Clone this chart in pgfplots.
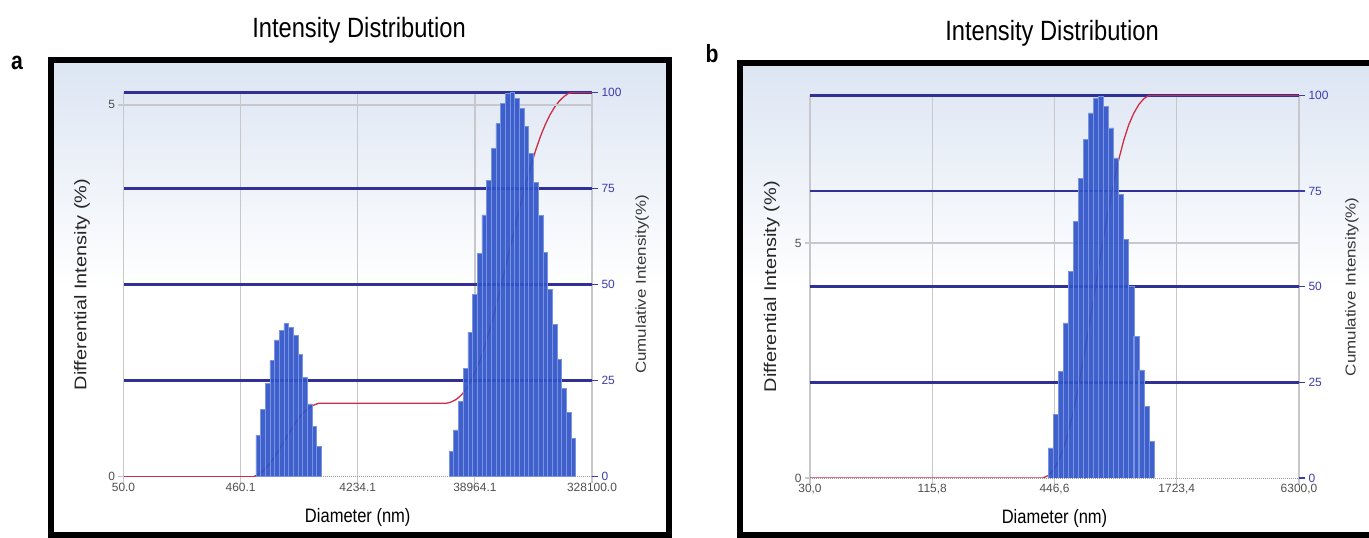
\documentclass[border=0pt]{standalone}
\usepackage{pgfplots}
\pgfplotsset{compat=1.18}
\usepackage{fontspec}
\setmainfont{Liberation Sans}
\usepackage{graphicx}
\definecolor{barblue}{RGB}{48,84,200}
\definecolor{baredge}{RGB}{120,148,225}
\definecolor{gridblue}{RGB}{48,48,150}
\definecolor{tickblue}{RGB}{60,60,175}
\definecolor{gridgray}{RGB}{200,200,204}
\definecolor{redline}{RGB}{205,45,70}
\definecolor{bgblue}{RGB}{220,229,243}
\definecolor{labgray}{RGB}{80,80,80}
\newcommand{\hs}[1]{\scalebox{0.85}[1]{#1}}
\newcommand{\vs}[1]{\scalebox{1}[0.85]{#1}}
\pgfplotsset{
  cumaxis/.style={
    scale only axis, at={(0pt,0pt)}, anchor=south west,
    xmin=0, xmax=4, ymin=0, ymax=100,
    axis x line*=bottom, axis y line*=right,
    y axis line style={draw=none},
    x axis line style={densely dotted, draw=gray!80, line width=1bp},
    tick align=outside, major tick length=6bp,
    xtick={0,1,2,3,4},
    xmajorgrids, x grid style={gridgray, line width=1.3bp},
    x tick style={gridgray, line width=1.2bp},
    ytick={25,50,75,100}, extra y ticks={0}, extra y tick style={grid=none},
    ymajorgrids, y grid style={gridblue, line width=2.6bp},
    y tick style={tickblue, line width=1.4bp},
    /pgf/number format/assume math mode=true,
    xticklabel style={font=\fontsize{12}{12}\selectfont, text=labgray, yshift=3bp},
    yticklabel style={font=\fontsize{12}{12}\selectfont, text=tickblue},
    xlabel style={font=\fontsize{19.5}{20}\selectfont, anchor=center},
    ylabel style={font=\fontsize{17}{18}\selectfont, text=labgray!70!black, anchor=center},
  },
  difaxis/.style={
    scale only axis, at={(0pt,0pt)}, anchor=south west,
    xmin=0, xmax=4, ymin=0,
    axis x line=none, axis y line*=left,
    y axis line style={draw=none},
    tick align=outside, major tick length=5bp,
    ytick={5}, extra y ticks={0}, extra y tick style={grid=none},
    ymajorgrids, y grid style={gridgray, line width=1.3bp},
    y tick style={gridgray, line width=1.2bp},
    /pgf/number format/assume math mode=true,
    yticklabel style={font=\fontsize{12}{12}\selectfont, text=labgray},
    ylabel style={font=\fontsize{20}{21}\selectfont, text=black!85, anchor=center},
    ybar, bar width=0.04,
  },
}
\begin{document}
\begin{tikzpicture}
\useasboundingbox (0bp,0bp) rectangle (1369bp,538bp);
\clip (0bp,0bp) rectangle (1369bp,538bp);
\begin{scope}[x=1bp,y=1bp]
\fill[white] (0,0) rectangle (1369,538);
\shade[top color=bgblue, bottom color=white] (51,250) rectangle (669,478);
\shade[top color=bgblue, bottom color=white] (740,250) rectangle (1380,475);
\draw[line width=6bp] (51,3) rectangle (669,478);
\draw[line width=6bp] (740,3) rectangle (1380,475);
\node[font=\fontsize{28}{30}\selectfont] at (359,508) {\hs{Intensity Distribution}};
\node[font=\fontsize{28}{30}\selectfont] at (1052,505) {\hs{Intensity Distribution}};
\node[font=\bfseries\fontsize{25}{26}\selectfont] at (17,475) {\hs{a}};
\node[font=\bfseries\fontsize{25}{26}\selectfont] at (712,484) {\hs{b}};
\end{scope}

% ---------------- panel a ----------------
\begin{scope}[shift={(123.5bp,61.3bp)}]
\begin{axis}[cumaxis, width=468.5bp, height=384.4bp,
  xticklabels={50.0,460.1,4234.1,38964.1,328100.0},
  xlabel={\hs{Diameter (nm)}}, xlabel style={at={(axis description cs:0.5,-0.107)}},
  ylabel={\vs{Cumulative Intensity(\%)}}, ylabel style={at={(axis description cs:1.107,0.5)}}]
\addplot[redline, line width=1.3bp] coordinates {
(0,0) (1.11,0) (1.15,0.56) (1.19,1.47) (1.23,2.72) (1.27,4.28) (1.31,6.12) (1.35,8.09)
(1.39,10.15) (1.43,12.16) (1.47,14.06) (1.51,15.71) (1.55,17.05) (1.59,18.03)
(1.63,18.71) (1.67,19.12) (2.76,19.12) (2.80,19.46) (2.84,20.09) (2.88,21.10)
(2.92,22.56) (2.96,24.50) (3.00,26.95) (3.04,29.95) (3.08,33.47) (3.12,37.46)
(3.16,41.87) (3.20,46.62) (3.24,51.64) (3.28,56.79) (3.32,61.96) (3.36,67.05)
(3.40,72.00) (3.44,76.71) (3.48,81.06) (3.52,85.02) (3.56,88.53) (3.60,91.55)
(3.64,94.07) (3.68,96.12) (3.72,97.70) (3.76,98.89) (3.80,99.75) (3.84,100) (4,100)};
\end{axis}
\begin{axis}[difaxis, width=468.5bp, height=384.4bp, ymax=5.17,
  ylabel={\vs{Differential Intensity (\%)}}, ylabel style={at={(axis description cs:-0.0886,0.5)}}]
\addplot[fill=barblue, draw=baredge, line width=0.6bp, fill opacity=0.92] coordinates {
(1.15,0.56) (1.19,0.91) (1.23,1.25) (1.27,1.56) (1.31,1.84) (1.35,1.97) (1.39,2.06)
(1.43,2.01) (1.47,1.90) (1.51,1.65) (1.55,1.34) (1.59,0.98) (1.63,0.68) (1.67,0.41)
(2.80,0.34) (2.84,0.63) (2.88,1.01) (2.92,1.46) (2.96,1.94) (3.00,2.45) (3.04,3.00)
(3.08,3.52) (3.12,3.99) (3.16,4.41) (3.20,4.75) (3.24,5.02) (3.28,5.15) (3.32,5.17)
(3.36,5.09) (3.40,4.95) (3.44,4.71) (3.48,4.35) (3.52,3.96) (3.56,3.51) (3.60,3.02)
(3.64,2.52) (3.68,2.05) (3.72,1.58) (3.76,1.19) (3.80,0.86) (3.84,0.52)};
\end{axis}
\end{scope}

% ---------------- panel b ----------------
\begin{scope}[shift={(810bp,60bp)}]
\begin{axis}[cumaxis, width=489bp, height=382.5bp,
  xticklabels={{30,0},{115,8},{446,6},{1723,4},{6300,0}},
  xlabel={\hs{Diameter (nm)}}, xlabel style={at={(axis description cs:0.5,-0.105)}},
  ylabel={\vs{Cumulative Intensity(\%)}}, ylabel style={at={(axis description cs:1.108,0.5)}}]
\addplot[redline, line width=1.3bp] coordinates {
(0,0) (1.907,0) (1.948,0.64) (1.989,1.99) (2.030,4.26) (2.072,7.56) (2.113,11.96)
(2.154,17.42) (2.195,23.80) (2.236,31.00) (2.278,38.77) (2.319,46.86) (2.360,54.98)
(2.401,62.89) (2.442,70.34) (2.484,77.15) (2.525,83.18) (2.566,88.25) (2.607,92.33)
(2.648,95.34) (2.690,97.64) (2.731,99.17) (2.772,100) (4,100)};
\end{axis}
\begin{axis}[difaxis, width=489bp, height=382.5bp, ymax=8.14, bar width=0.0412,
  ylabel={\vs{Differential Intensity (\%)}}, ylabel style={at={(axis description cs:-0.078,0.5)}}]
\addplot[fill=barblue, draw=baredge, line width=0.6bp, fill opacity=0.92] coordinates {
(1.969,0.64) (2.010,1.35) (2.051,2.27) (2.092,3.30) (2.133,4.40) (2.175,5.46)
(2.216,6.38) (2.257,7.20) (2.298,7.77) (2.339,8.09) (2.380,8.12) (2.422,7.91)
(2.463,7.45) (2.504,6.81) (2.545,6.03) (2.586,5.07) (2.628,4.08) (2.669,3.01)
(2.710,2.30) (2.751,1.53) (2.792,0.78)};
\end{axis}
\end{scope}
\end{tikzpicture}
\end{document}
